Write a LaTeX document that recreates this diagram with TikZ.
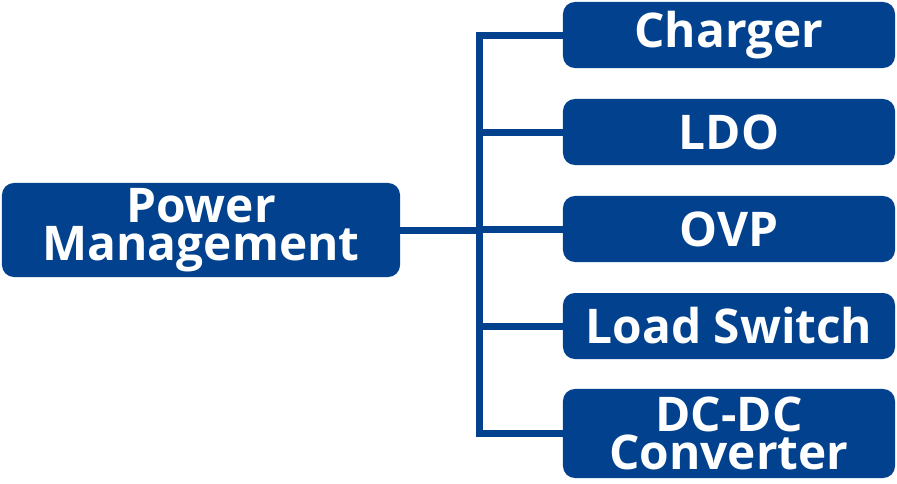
\documentclass[tikz,border=0pt]{standalone}
\usepackage{fontspec}
\setmainfont{Open Sans}
\usetikzlibrary{positioning}
\definecolor{pmblue}{HTML}{02418E}
\tikzset{
  leafbox/.style={rectangle,rounded corners=0.3cm,fill=pmblue,text=white,
    minimum width=8.3cm,minimum height=1.65cm,inner sep=0pt,
    font=\fontsize{34}{27}\selectfont\bfseries,align=center},
  rootbox/.style={leafbox,minimum width=9.95cm,minimum height=2.35cm},
  link/.style={pmblue,line width=0.175cm,line join=miter}
}

\begin{document}
\begin{tikzpicture}[x=0.025cm,y=-0.025cm]
\useasboundingbox (0,0) rectangle (897,483);
\node[rootbox] (pm) at (201,230) {Power\\Management};

\node[leafbox] (chg) at (729,35) {Charger};
\node[leafbox] (ldo) at (729,132) {LDO};
\node[leafbox] (ovp) at (729,229) {OVP};
\node[leafbox] (lsw) at (729,326) {Load Switch};
\node[leafbox,minimum height=2.225cm] (dcdc) at (729,433.5) {DC-DC\\Converter};

\coordinate (bus) at (479,230);

\draw[link] (pm.east) -- (bus);
\draw[link] (chg.west) -| (bus |- dcdc.west) -- (dcdc.west);
\draw[link] (bus |- ldo.west) -- (ldo.west);
\draw[link] (bus |- ovp.west) -- (ovp.west);
\draw[link] (bus |- lsw.west) -- (lsw.west);
\end{tikzpicture}
\end{document}
